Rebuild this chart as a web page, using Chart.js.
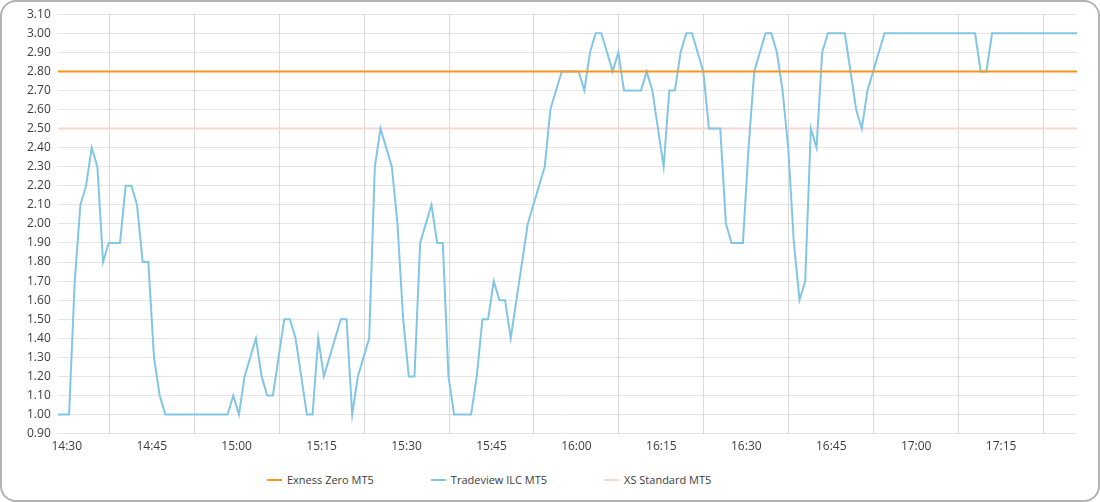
<!DOCTYPE html>
<html lang="en">
<head>
<meta charset="UTF-8">
<title>Spread comparison</title>
<script src="https://cdn.jsdelivr.net/npm/chart.js"></script>
<style>
  html, body { margin: 0; padding: 0; background: #fff; }
  body { width: 1100px; height: 502px; position: relative; overflow: hidden; font-family: 'Open Sans', sans-serif; color: #3c3c3c; }
  .card { position: absolute; left: 0; top: 0; width: 1100px; height: 502px; box-sizing: border-box; border: 2px solid #b3b3b3; border-radius: 16px; }
  .chart-box { position: absolute; left: 0; top: 0; width: 1100px; height: 460px; }
  #legend { position: absolute; left: 267px; top: 471px; display: flex; gap: 57px; font-size: 11px; line-height: 18px; white-space: nowrap; }
  #legend .mark { display: inline-block; width: 15px; height: 2px; vertical-align: middle; margin-right: 5px; position: relative; top: -1px; }
</style>
</head>
<body>
<div class="card"></div>
<div class="chart-box"><canvas id="spreadChart" width="1100" height="460"></canvas></div>
<div id="legend"></div>

<script>
// one sample per minute
const firstSample = '14:28:24';
const lastSample = '17:28:24';
const xTickLabels = ['14:30', '14:45', '15:00', '15:15', '15:30', '15:45', '16:00',
                     '16:15', '16:30', '16:45', '17:00', '17:15'];

const tradeviewIlc = [
  1.00, 1.00, 1.00, 1.70, 2.10, 2.20, 2.40, 2.30, 1.80, 1.90,
  1.90, 1.90, 2.20, 2.20, 2.10, 1.80, 1.80, 1.30, 1.10, 1.00,
  1.00, 1.00, 1.00, 1.00, 1.00, 1.00, 1.00, 1.00, 1.00, 1.00,
  1.00, 1.10, 1.00, 1.20, 1.30, 1.40, 1.20, 1.10, 1.10, 1.30,
  1.50, 1.50, 1.40, 1.20, 1.00, 1.00, 1.40, 1.20, 1.30, 1.40,
  1.50, 1.50, 1.00, 1.20, 1.30, 1.40, 2.30, 2.50, 2.40, 2.30,
  2.00, 1.50, 1.20, 1.20, 1.90, 2.00, 2.10, 1.90, 1.90, 1.20,
  1.00, 1.00, 1.00, 1.00, 1.20, 1.50, 1.50, 1.70, 1.60, 1.60,
  1.40, 1.60, 1.80, 2.00, 2.10, 2.20, 2.30, 2.60, 2.70, 2.80,
  2.80, 2.80, 2.80, 2.70, 2.90, 3.00, 3.00, 2.90, 2.80, 2.90,
  2.70, 2.70, 2.70, 2.70, 2.80, 2.70, 2.50, 2.30, 2.70, 2.70,
  2.90, 3.00, 3.00, 2.90, 2.80, 2.50, 2.50, 2.50, 2.00, 1.90,
  1.90, 1.90, 2.40, 2.80, 2.90, 3.00, 3.00, 2.90, 2.70, 2.40,
  1.90, 1.60, 1.70, 2.50, 2.40, 2.90, 3.00, 3.00, 3.00, 3.00,
  2.80, 2.60, 2.50, 2.70, 2.80, 2.90, 3.00, 3.00, 3.00, 3.00,
  3.00, 3.00, 3.00, 3.00, 3.00, 3.00, 3.00, 3.00, 3.00, 3.00,
  3.00, 3.00, 3.00, 2.80, 2.80, 3.00, 3.00, 3.00, 3.00, 3.00,
  3.00, 3.00, 3.00, 3.00, 3.00, 3.00, 3.00, 3.00, 3.00, 3.00,
  3.00
];
// flat spreads, start and end of the session
const exnessZero = [2.80, 2.80];
const xsStandard = [2.50, 2.50];

const yMin = 0.9;
const yMax = 3.1;

function toMinutes(t) {
  const p = t.split(':').map(Number);
  return p[0] * 60 + p[1] + (p[2] || 0) / 60;
}
function toClock(m) {
  const h = Math.floor(m / 60);
  const mm = Math.round(m - h * 60);
  return h + ':' + String(mm).padStart(2, '0');
}

const start = toMinutes(firstSample);
const end = toMinutes(lastSample);
const flatTimes = [start, end];

const datasets = [
  { label: 'Exness Zero MT5', color: '#f7961d', x: flatTimes, y: exnessZero },
  { label: 'Tradeview ILC MT5', color: '#82c6e6', x: tradeviewIlc.map((v, i) => start + i), y: tradeviewIlc },
  { label: 'XS Standard MT5', color: '#f9d6d6', x: flatTimes, y: xsStandard }
].map(s => ({
  label: s.label,
  data: s.y.map((v, i) => ({ x: s.x[i], y: v })),
  borderColor: s.color,
  backgroundColor: s.color,
  borderWidth: 2,
  pointRadius: 0,
  tension: 0
}));

Chart.defaults.font.family = "'Open Sans', sans-serif";
Chart.defaults.font.size = 12;
Chart.defaults.color = '#3c3c3c';

const chart = new Chart(document.getElementById('spreadChart'), {
  type: 'line',
  data: { datasets },
  options: {
    responsive: false,
    animation: false,
    layout: { padding: { left: 20, right: 23, top: 11, bottom: 0 } },
    plugins: { legend: { display: false }, tooltip: { enabled: false } },
    scales: {
      x: {
        type: 'linear',
        min: start,
        max: end,
        afterBuildTicks: axis => { axis.ticks = xTickLabels.map(t => ({ value: toMinutes(t) })); },
        ticks: { padding: 6, maxRotation: 0, autoSkip: false, callback: v => toClock(v) },
        grid: { offset: true, color: 'rgba(0,0,0,0.14)', drawTicks: false },
        border: { display: false }
      },
      y: {
        min: yMin,
        max: yMax,
        ticks: { stepSize: 0.1, padding: 7, callback: v => v.toFixed(2) },
        grid: { color: 'rgba(0,0,0,0.1)', drawTicks: false },
        border: { display: false }
      }
    }
  }
});

// legend below the plot
const legend = document.getElementById('legend');
chart.data.datasets.forEach(ds => {
  const item = document.createElement('div');
  item.innerHTML = '<span class="mark" style="background:' + ds.borderColor + '"></span>' + ds.label;
  legend.appendChild(item);
});
</script>
</body>
</html>
